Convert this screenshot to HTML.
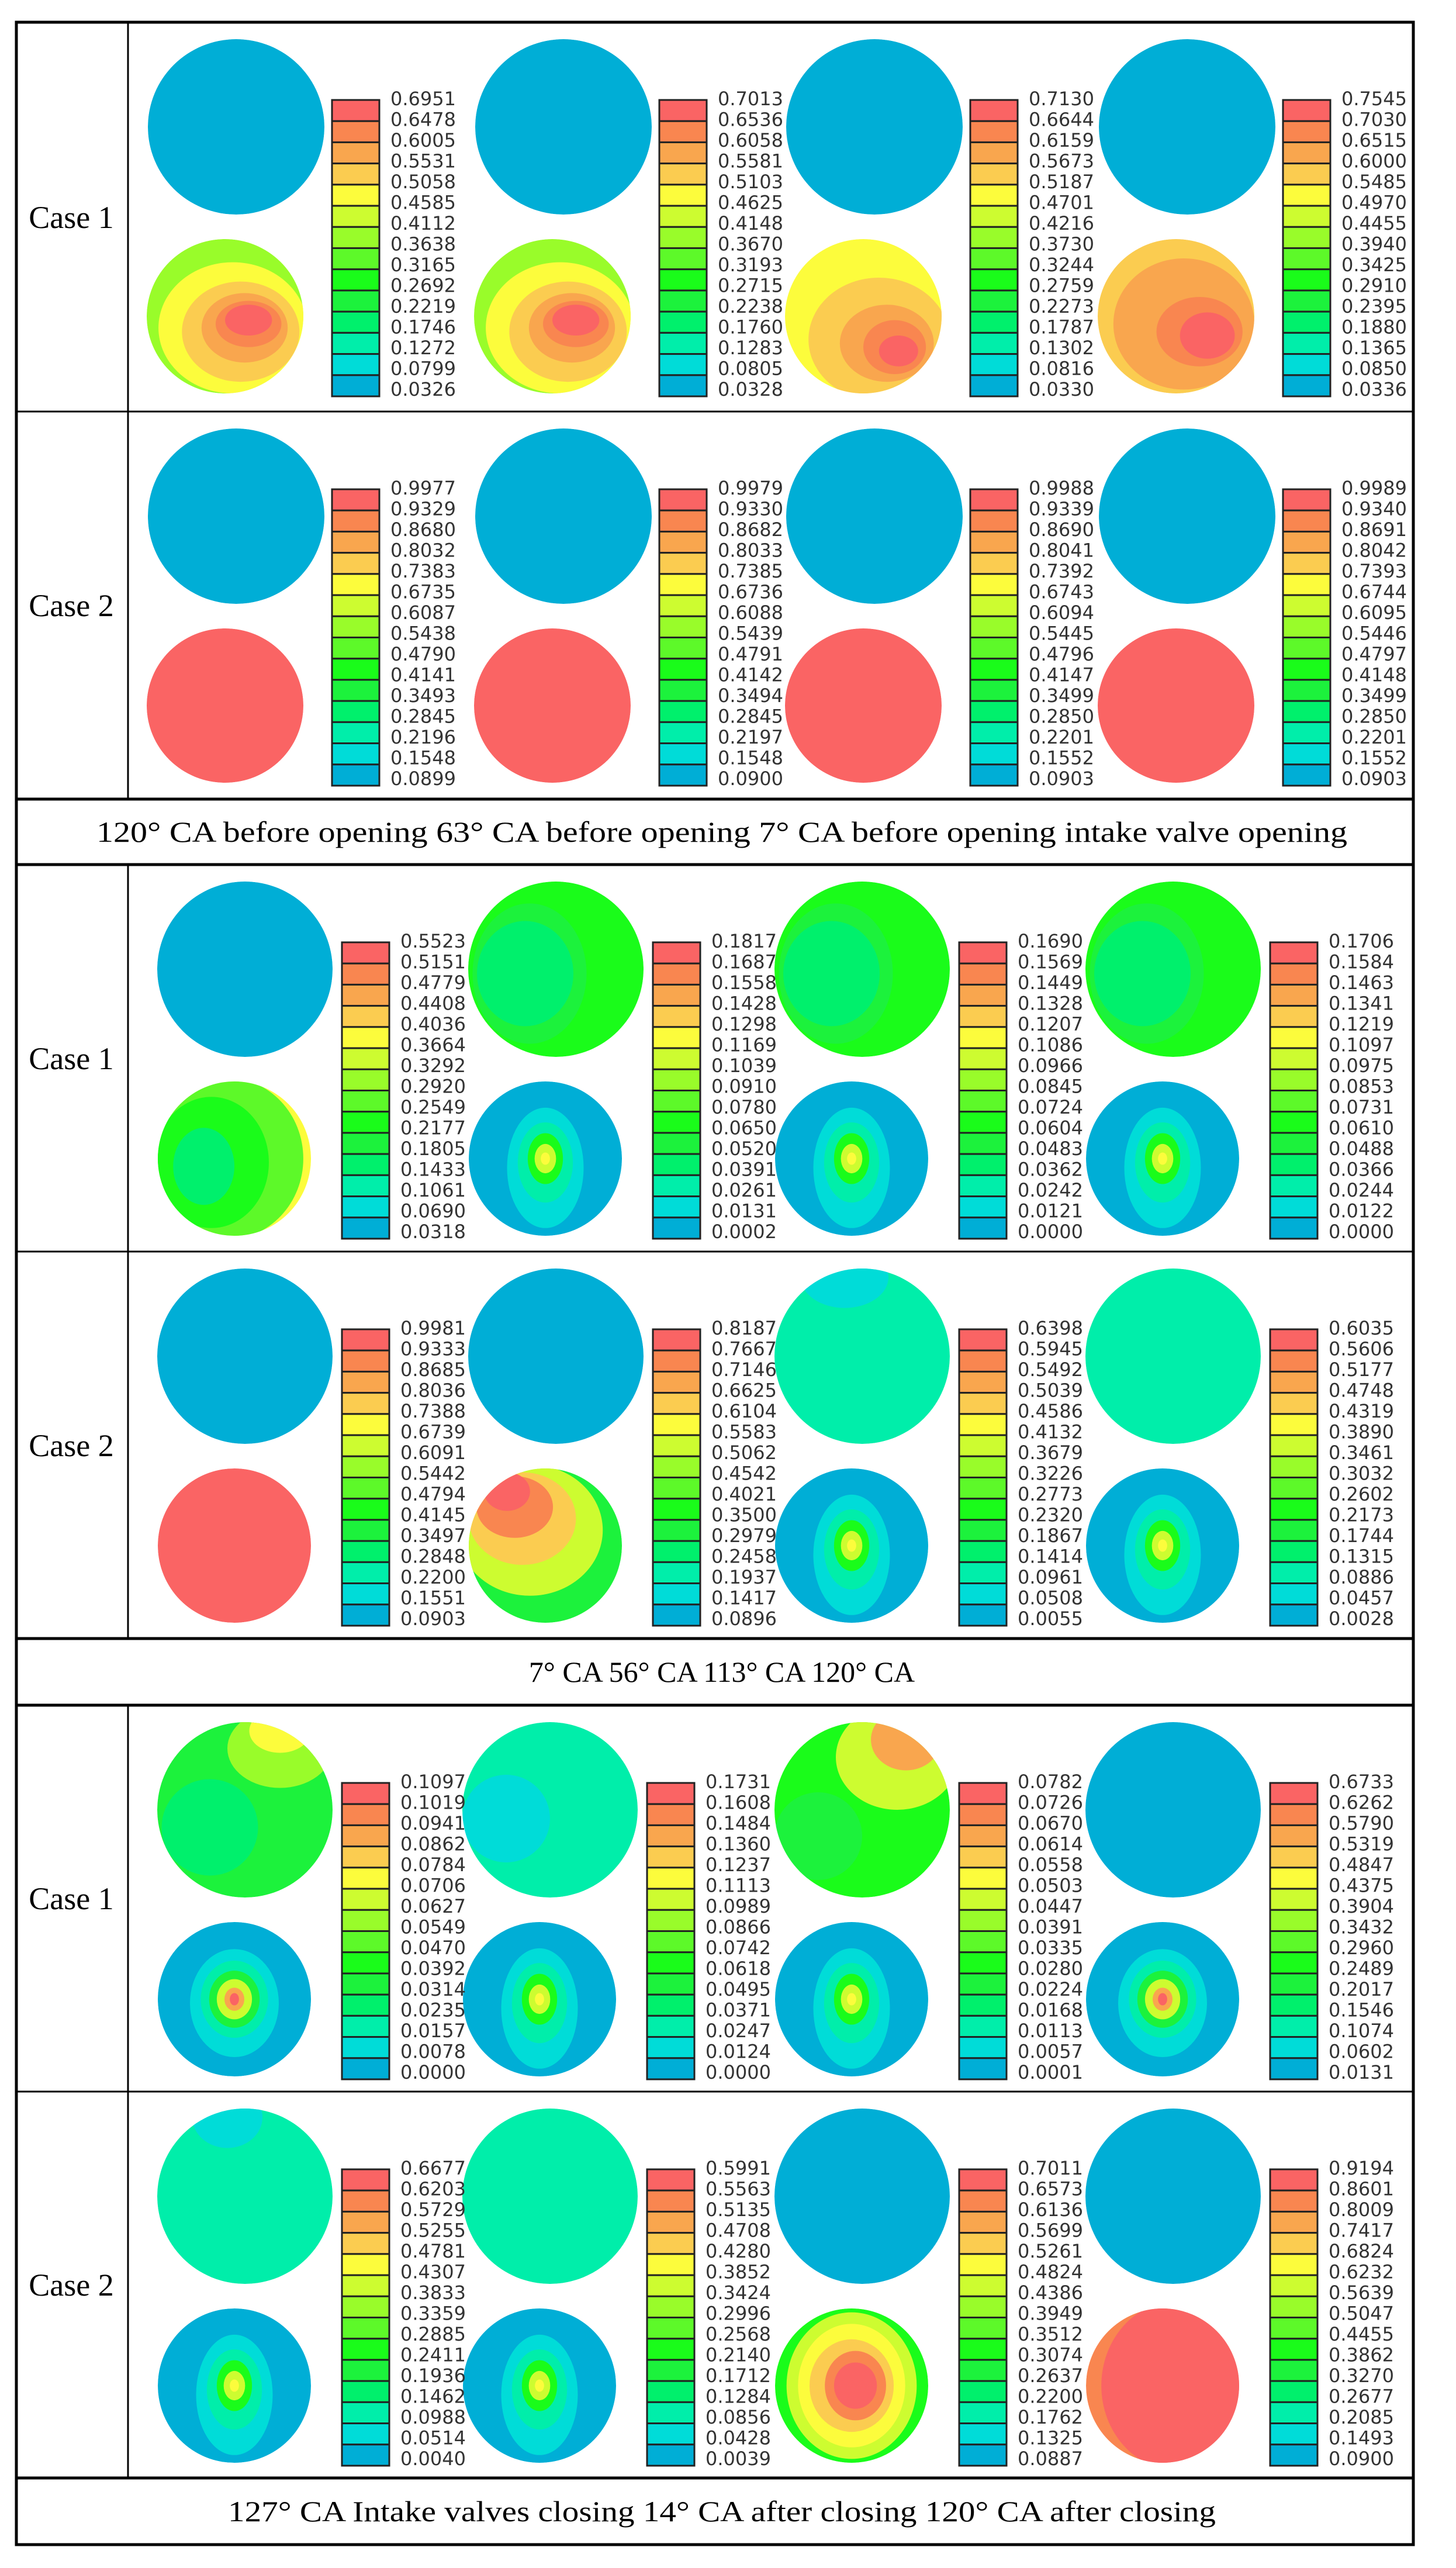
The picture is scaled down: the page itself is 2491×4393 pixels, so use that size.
<!DOCTYPE html>
<html><head><meta charset="utf-8"><style>
html,body{margin:0;padding:0;background:#fff;}
svg{display:block;}
</style></head><body>
<svg id="fig" xmlns="http://www.w3.org/2000/svg" width="2491" height="4393" viewBox="0 0 2491 4393">
<rect x="0" y="0" width="2491" height="4393" fill="#fff"/>
<g id="plots"></g>
<g id="bars"></g>
<g id="grid" stroke="#000" fill="none">
<rect x="28" y="38" width="2390" height="4315" stroke-width="5"/>
<line x1="28" y1="704" x2="2418" y2="704" stroke-width="3"/>
<line x1="28" y1="1367" x2="2418" y2="1367" stroke-width="5"/>
<line x1="28" y1="1479" x2="2418" y2="1479" stroke-width="5"/>
<line x1="28" y1="2141" x2="2418" y2="2141" stroke-width="3"/>
<line x1="28" y1="2803" x2="2418" y2="2803" stroke-width="5"/>
<line x1="28" y1="2917" x2="2418" y2="2917" stroke-width="5"/>
<line x1="28" y1="3578" x2="2418" y2="3578" stroke-width="3"/>
<line x1="28" y1="4239" x2="2418" y2="4239" stroke-width="5"/>
<line x1="219" y1="38" x2="219" y2="1367" stroke-width="3"/>
<line x1="219" y1="1479" x2="219" y2="2803" stroke-width="3"/>
<line x1="219" y1="2917" x2="219" y2="4239" stroke-width="3"/>
</g>
<g font-family="Liberation Serif, serif" font-size="54" fill="#000" text-anchor="middle">
<text x="122" y="390">Case 1</text>
<text x="122" y="1054">Case 2</text>
<text x="122" y="1829">Case 1</text>
<text x="122" y="2491">Case 2</text>
<text x="122" y="3266">Case 1</text>
<text x="122" y="3927">Case 2</text>
</g>
<g font-family="Liberation Serif, serif" font-size="50" fill="#000" text-anchor="middle">
<text x="1235" y="1440" textLength="2140" lengthAdjust="spacingAndGlyphs">120° CA before opening 63° CA before opening 7° CA before opening intake valve opening</text>
<text x="1235" y="2877">7° CA 56° CA 113° CA 120° CA</text>
<text x="1235" y="4313" textLength="1690" lengthAdjust="spacingAndGlyphs">127° CA Intake valves closing 14° CA after closing 120° CA after closing</text>
</g>
</svg>
<script>
const NS='http://www.w3.org/2000/svg';
const palette=['#fa6464','#f98650','#f9a64e','#fbcc50','#fcfc3c','#cdfc30','#99fc2a','#5df929','#1afc1a','#1cf23c','#00f06c','#00eeaa','#00dcd8','#00aed6'];
const rowTops=[38,704,1479,2141,2917,3578];
const legendRow1=[
"0.6951 0.6478 0.6005 0.5531 0.5058 0.4585 0.4112 0.3638 0.3165 0.2692 0.2219 0.1746 0.1272 0.0799 0.0326",
"0.7013 0.6536 0.6058 0.5581 0.5103 0.4625 0.4148 0.3670 0.3193 0.2715 0.2238 0.1760 0.1283 0.0805 0.0328",
"0.7130 0.6644 0.6159 0.5673 0.5187 0.4701 0.4216 0.3730 0.3244 0.2759 0.2273 0.1787 0.1302 0.0816 0.0330",
"0.7545 0.7030 0.6515 0.6000 0.5485 0.4970 0.4455 0.3940 0.3425 0.2910 0.2395 0.1880 0.1365 0.0850 0.0336"];
const legendRow2=[
"0.9977 0.9329 0.8680 0.8032 0.7383 0.6735 0.6087 0.5438 0.4790 0.4141 0.3493 0.2845 0.2196 0.1548 0.0899",
"0.9979 0.9330 0.8682 0.8033 0.7385 0.6736 0.6088 0.5439 0.4791 0.4142 0.3494 0.2845 0.2197 0.1548 0.0900",
"0.9988 0.9339 0.8690 0.8041 0.7392 0.6743 0.6094 0.5445 0.4796 0.4147 0.3499 0.2850 0.2201 0.1552 0.0903",
"0.9989 0.9340 0.8691 0.8042 0.7393 0.6744 0.6095 0.5446 0.4797 0.4148 0.3499 0.2850 0.2201 0.1552 0.0903"];
const legendRow3=[
"0.5523 0.5151 0.4779 0.4408 0.4036 0.3664 0.3292 0.2920 0.2549 0.2177 0.1805 0.1433 0.1061 0.0690 0.0318",
"0.1817 0.1687 0.1558 0.1428 0.1298 0.1169 0.1039 0.0910 0.0780 0.0650 0.0520 0.0391 0.0261 0.0131 0.0002",
"0.1690 0.1569 0.1449 0.1328 0.1207 0.1086 0.0966 0.0845 0.0724 0.0604 0.0483 0.0362 0.0242 0.0121 0.0000",
"0.1706 0.1584 0.1463 0.1341 0.1219 0.1097 0.0975 0.0853 0.0731 0.0610 0.0488 0.0366 0.0244 0.0122 0.0000"];
const legendRow4=[
"0.9981 0.9333 0.8685 0.8036 0.7388 0.6739 0.6091 0.5442 0.4794 0.4145 0.3497 0.2848 0.2200 0.1551 0.0903",
"0.8187 0.7667 0.7146 0.6625 0.6104 0.5583 0.5062 0.4542 0.4021 0.3500 0.2979 0.2458 0.1937 0.1417 0.0896",
"0.6398 0.5945 0.5492 0.5039 0.4586 0.4132 0.3679 0.3226 0.2773 0.2320 0.1867 0.1414 0.0961 0.0508 0.0055",
"0.6035 0.5606 0.5177 0.4748 0.4319 0.3890 0.3461 0.3032 0.2602 0.2173 0.1744 0.1315 0.0886 0.0457 0.0028"];
const legendRow5=[
"0.1097 0.1019 0.0941 0.0862 0.0784 0.0706 0.0627 0.0549 0.0470 0.0392 0.0314 0.0235 0.0157 0.0078 0.0000",
"0.1731 0.1608 0.1484 0.1360 0.1237 0.1113 0.0989 0.0866 0.0742 0.0618 0.0495 0.0371 0.0247 0.0124 0.0000",
"0.0782 0.0726 0.0670 0.0614 0.0558 0.0503 0.0447 0.0391 0.0335 0.0280 0.0224 0.0168 0.0113 0.0057 0.0001",
"0.6733 0.6262 0.5790 0.5319 0.4847 0.4375 0.3904 0.3432 0.2960 0.2489 0.2017 0.1546 0.1074 0.0602 0.0131"];
const legendRow6=[
"0.6677 0.6203 0.5729 0.5255 0.4781 0.4307 0.3833 0.3359 0.2885 0.2411 0.1936 0.1462 0.0988 0.0514 0.0040",
"0.5991 0.5563 0.5135 0.4708 0.4280 0.3852 0.3424 0.2996 0.2568 0.2140 0.1712 0.1284 0.0856 0.0428 0.0039",
"0.7011 0.6573 0.6136 0.5699 0.5261 0.4824 0.4386 0.3949 0.3512 0.3074 0.2637 0.2200 0.1762 0.1325 0.0887",
"0.9194 0.8601 0.8009 0.7417 0.6824 0.6232 0.5639 0.5047 0.4455 0.3862 0.3270 0.2677 0.2085 0.1493 0.0900"];
const legends=[legendRow1,legendRow2,legendRow3,legendRow4,legendRow5,legendRow6];

const BLUE={b:13,k:[]}, RED={b:0,k:[]}, TEAL={b:11,k:[]};
const HOT={b:13,k:[[0,0.12,0.5,0.78,12],[0,0.05,0.36,0.52,11],[0,0,0.23,0.33,8],[0,0,0.14,0.19,5],[0,0,0.06,0.08,4]]};
const HOTBIG={b:13,k:[[0,0.05,0.58,0.7,12],[0,0,0.44,0.5,11],[0,0,0.33,0.37,9],[0,0,0.23,0.26,5],[0,0,0.13,0.15,2],[0,0,0.06,0.08,0]]};
const GREENTOP={b:8,k:[[-0.3,0.05,0.65,0.8,9],[-0.35,0.05,0.55,0.6,10]]};
const specTop=[
 [BLUE,BLUE,BLUE,BLUE],[BLUE,BLUE,BLUE,BLUE],
 [BLUE,GREENTOP,GREENTOP,GREENTOP],
 [BLUE,BLUE,{b:11,k:[[-0.2,-0.9,0.5,0.35,12]]},TEAL],
 [{b:9,k:[[-0.4,0.2,0.55,0.55,10],[0.4,-0.7,0.6,0.45,6],[0.4,-0.9,0.35,0.25,4]]},{b:11,k:[[-0.5,0.1,0.5,0.5,12]]},{b:8,k:[[-0.5,0.3,0.5,0.5,9],[0.4,-0.6,0.7,0.6,5],[0.5,-0.8,0.4,0.35,2]]},BLUE],
 [{b:11,k:[[-0.2,-0.9,0.4,0.35,12]]},TEAL,BLUE,BLUE]];
const specBot=[
 [{b:6,k:[[0.1,0.15,0.95,0.85,4],[0.2,0.2,0.75,0.65,3],[0.25,0.15,0.55,0.45,2],[0.3,0.1,0.42,0.3,1],[0.3,0.05,0.3,0.2,0]]},
  {b:6,k:[[0.1,0.15,0.95,0.85,4],[0.2,0.2,0.75,0.65,3],[0.25,0.15,0.55,0.45,2],[0.3,0.1,0.42,0.3,1],[0.3,0.05,0.3,0.2,0]]},
  {b:4,k:[[0.2,0.3,0.9,0.8,3],[0.3,0.35,0.6,0.5,2],[0.4,0.4,0.4,0.35,1],[0.45,0.45,0.25,0.2,0]]},
  {b:3,k:[[0.1,0.1,0.9,0.85,2],[0.3,0.2,0.55,0.45,1],[0.4,0.25,0.35,0.3,0]]}],
 [RED,RED,RED,RED],
 [{b:4,k:[[-0.1,0,1.0,1.05,7],[-0.3,0.05,0.75,0.85,8],[-0.4,0.1,0.4,0.5,10]]},HOT,HOT,HOT],
 [RED,{b:9,k:[[-0.2,-0.2,0.95,0.85,5],[-0.3,-0.35,0.7,0.6,3],[-0.4,-0.5,0.5,0.4,1],[-0.5,-0.7,0.3,0.25,0]]},HOT,HOT],
 [HOTBIG,HOT,HOT,HOTBIG],
 [HOT,HOT,{b:8,k:[[0,0,0.85,0.95,5],[0,0,0.7,0.8,4],[0,0,0.55,0.6,3],[0.05,0,0.4,0.45,1],[0.05,0,0.28,0.3,0]]},{b:1,k:[[0.2,0,1.0,1.1,0]]}]];

const sections=[
 {cb:[568,1128,1660,2195],dT:-164,dB:-183,rT:151,rB:134},
 {cb:[585,1117,1641,2173],dT:-166,dB:-184,rT:150,rB:131},
 {cb:[585,1107,1641,2173],dT:-166,dB:-184,rT:150,rB:131}];

const plots=document.getElementById('plots');
const bars=document.getElementById('bars');
let clipId=0;
function drawPlot(cx,cy,rx,ry,spec,name){
  const g=document.createElementNS(NS,'g');
  
  
  const id='c'+(clipId++);
  const cp=document.createElementNS(NS,'clipPath');cp.setAttribute('id',id);
  const ce=document.createElementNS(NS,'ellipse');
  ce.setAttribute('cx',cx);ce.setAttribute('cy',cy);ce.setAttribute('rx',rx);ce.setAttribute('ry',ry);
  cp.appendChild(ce);g.appendChild(cp);
  const inner=document.createElementNS(NS,'g');inner.setAttribute('clip-path','url(#'+id+')');
  const base=document.createElementNS(NS,'ellipse');
  base.setAttribute('cx',cx);base.setAttribute('cy',cy);base.setAttribute('rx',rx);base.setAttribute('ry',ry);
  base.setAttribute('fill',palette[spec.b]);inner.appendChild(base);
  spec.k.forEach(k=>{
    const e=document.createElementNS(NS,'ellipse');
    e.setAttribute('cx',cx+k[0]*rx);e.setAttribute('cy',cy+k[1]*ry);
    e.setAttribute('rx',k[2]*rx);e.setAttribute('ry',k[3]*ry);
    e.setAttribute('fill',palette[k[4]]);inner.appendChild(e);
  });
  g.appendChild(inner);plots.appendChild(g);
}
function drawLegend(x,top,labels,name){
  const g=document.createElementNS(NS,'g');
  
  
  const segH=507/14;
  for(let i=0;i<14;i++){
    const r=document.createElementNS(NS,'rect');
    
    
    r.setAttribute('x',x);r.setAttribute('y',top+133+i*segH);
    r.setAttribute('width',81);r.setAttribute('height',segH);
    r.setAttribute('fill',palette[i]);r.setAttribute('stroke','#222');r.setAttribute('stroke-width','3');
    g.appendChild(r);
  }
  labels.forEach((v,i)=>{
    const t=document.createElementNS(NS,'text');
    
    
    t.setAttribute('x',x+100);t.setAttribute('y',top+142+i*35.5);
    t.setAttribute('font-family','DejaVu Sans, sans-serif');t.setAttribute('font-size','32');
    t.setAttribute('fill','#333');t.textContent=v;g.appendChild(t);
  });
  bars.appendChild(g);
}
for(let r=0;r<6;r++){
  const s=sections[Math.floor(r/2)], top=rowTops[r];
  for(let p=0;p<4;p++){
    const cb=s.cb[p];
    drawPlot(cb+s.dT,top+179,s.rT,150,specTop[r][p],'top-plot-r'+(r+1)+'-p'+(p+1));
    drawPlot(cb+s.dB,top+503,s.rB,132,specBot[r][p],'bottom-plot-r'+(r+1)+'-p'+(p+1));
    drawLegend(cb,top,legends[r][p].split(' '),'legend-r'+(r+1)+'-p'+(p+1));
  }
}
</script>
</body></html>
